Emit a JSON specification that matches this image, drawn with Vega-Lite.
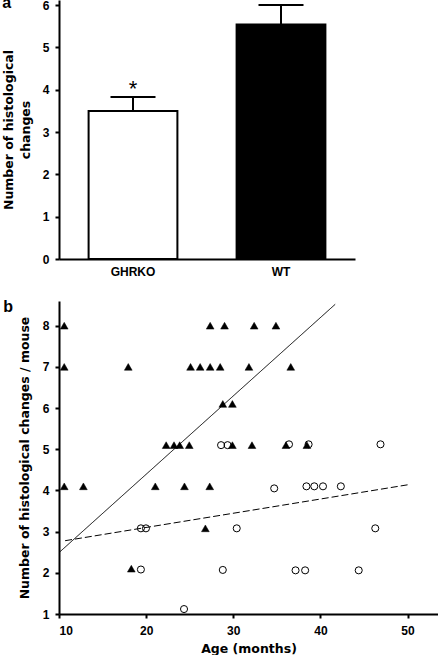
{
  "$schema": "https://vega.github.io/schema/vega-lite/v6.json",
  "padding": {"left": 2, "top": -5, "right": 0, "bottom": 0},
  "background": "white",
  "spacing": 22,
  "config": {
    "font": "Liberation Sans",
    "view": {"stroke": null},
    "axis": {
      "domainColor": "black", "domainWidth": 2,
      "tickColor": "black", "tickWidth": 2, "tickSize": 4,
      "labelColor": "black", "labelFont": "Liberation Sans", "labelFontWeight": "bold", "labelFontSize": 12, "labelPadding": 6,
      "titleColor": "black", "titleFont": "DejaVu Sans", "titleFontWeight": "bold", "titleFontSize": 12.5,
      "grid": false
    },
    "title": {"font": "Liberation Sans", "color": "black"}
  },
  "datasets": {
    "bars": [
      {"group": "GHRKO", "mean": 3.5, "upper": 3.83},
      {"group": "WT", "mean": 5.54, "upper": 6.0}
    ],
    "notes": [
      {"group": "GHRKO", "star_y": 3.86, "note": "*"}
    ],
    "fits": [
      {"fit": "WT", "age": 10, "changes": 2.49},
      {"fit": "WT", "age": 41.7, "changes": 8.52},
      {"fit": "GHRKO", "age": 10.7, "changes": 2.78},
      {"fit": "GHRKO", "age": 50.1, "changes": 4.14}
    ],
    "points": [
      {"genotype": "WT", "age": 10.6, "changes": 8.0},
      {"genotype": "WT", "age": 10.6, "changes": 7.0},
      {"genotype": "WT", "age": 10.6, "changes": 4.1},
      {"genotype": "WT", "age": 12.8, "changes": 4.1},
      {"genotype": "WT", "age": 17.95, "changes": 7.0},
      {"genotype": "WT", "age": 18.3, "changes": 2.1},
      {"genotype": "WT", "age": 21.05, "changes": 4.1},
      {"genotype": "WT", "age": 22.3, "changes": 5.1},
      {"genotype": "WT", "age": 23.2, "changes": 5.1},
      {"genotype": "WT", "age": 23.85, "changes": 5.1},
      {"genotype": "WT", "age": 24.95, "changes": 5.1},
      {"genotype": "WT", "age": 24.4, "changes": 4.1},
      {"genotype": "WT", "age": 25.1, "changes": 7.0},
      {"genotype": "WT", "age": 26.2, "changes": 7.0},
      {"genotype": "WT", "age": 27.35, "changes": 7.0},
      {"genotype": "WT", "age": 27.35, "changes": 8.0},
      {"genotype": "WT", "age": 27.3, "changes": 4.1},
      {"genotype": "WT", "age": 26.8, "changes": 3.08},
      {"genotype": "WT", "age": 28.5, "changes": 7.0},
      {"genotype": "WT", "age": 29.0, "changes": 8.0},
      {"genotype": "WT", "age": 28.8, "changes": 6.1},
      {"genotype": "WT", "age": 29.9, "changes": 6.1},
      {"genotype": "WT", "age": 29.9, "changes": 5.1},
      {"genotype": "WT", "age": 32.15, "changes": 5.1},
      {"genotype": "WT", "age": 31.8, "changes": 7.0},
      {"genotype": "WT", "age": 32.4, "changes": 8.0},
      {"genotype": "WT", "age": 34.9, "changes": 8.0},
      {"genotype": "WT", "age": 36.6, "changes": 7.0},
      {"genotype": "WT", "age": 36.05, "changes": 5.1},
      {"genotype": "WT", "age": 38.45, "changes": 5.1},
      {"genotype": "GHRKO", "age": 19.4, "changes": 3.08},
      {"genotype": "GHRKO", "age": 19.98, "changes": 3.08},
      {"genotype": "GHRKO", "age": 19.4, "changes": 2.08},
      {"genotype": "GHRKO", "age": 24.35, "changes": 1.12},
      {"genotype": "GHRKO", "age": 28.6, "changes": 5.1},
      {"genotype": "GHRKO", "age": 29.35, "changes": 5.1},
      {"genotype": "GHRKO", "age": 30.4, "changes": 3.08},
      {"genotype": "GHRKO", "age": 28.8, "changes": 2.07},
      {"genotype": "GHRKO", "age": 34.7, "changes": 4.05},
      {"genotype": "GHRKO", "age": 36.4, "changes": 5.12},
      {"genotype": "GHRKO", "age": 38.65, "changes": 5.12},
      {"genotype": "GHRKO", "age": 38.4, "changes": 4.1},
      {"genotype": "GHRKO", "age": 39.3, "changes": 4.1},
      {"genotype": "GHRKO", "age": 40.3, "changes": 4.1},
      {"genotype": "GHRKO", "age": 42.35, "changes": 4.1},
      {"genotype": "GHRKO", "age": 37.15, "changes": 2.06},
      {"genotype": "GHRKO", "age": 38.25, "changes": 2.06},
      {"genotype": "GHRKO", "age": 44.4, "changes": 2.06},
      {"genotype": "GHRKO", "age": 46.3, "changes": 3.08},
      {"genotype": "GHRKO", "age": 46.9, "changes": 5.12}
    ]
  },
  "vconcat": [
    {
      "width": 296,
      "height": 259,
      "title": {"text": "a", "anchor": "start", "frame": "bounds", "fontSize": 16, "fontWeight": "bold", "offset": -25, "baseline": "alphabetic"},
      "data": {"name": "bars"},
      "encoding": {
        "x": {
          "field": "group", "type": "nominal",
          "scale": {"domain": ["GHRKO", "WT"], "paddingInner": 0.4, "paddingOuter": 0.2},
          "axis": {"title": null, "labelAngle": 0, "ticks": false, "labelPadding": 7}
        }
      },
      "layer": [
        {
          "mark": {"type": "bar", "stroke": "black", "strokeWidth": 2, "opacity": 1},
          "encoding": {
            "y": {
              "field": "mean", "type": "quantitative",
              "scale": {"domain": [0, 6.12], "nice": false},
              "axis": {"values": [0, 1, 2, 3, 4, 5, 6], "title": ["Number of histological", "changes"], "titleLineHeight": 17, "titlePadding": 10}
            },
            "fill": {"field": "group", "type": "nominal", "scale": {"domain": ["GHRKO", "WT"], "range": ["white", "black"]}, "legend": null}
          }
        },
        {
          "mark": {"type": "rule", "strokeWidth": 2, "color": "black", "opacity": 1},
          "encoding": {
            "y": {"field": "mean", "type": "quantitative"},
            "y2": {"field": "upper"}
          }
        },
        {
          "mark": {"type": "tick", "color": "black", "thickness": 2, "size": 45, "opacity": 1},
          "encoding": {"y": {"field": "upper", "type": "quantitative"}}
        },
        {
          "data": {"name": "notes"},
          "mark": {"type": "text", "fontSize": 22, "baseline": "alphabetic", "color": "black", "font": "Liberation Sans"},
          "encoding": {
            "y": {"field": "star_y", "type": "quantitative"},
            "text": {"field": "note"}
          }
        }
      ]
    },
    {
      "width": 379,
      "height": 313,
      "title": {"text": "b", "anchor": "start", "frame": "bounds", "fontSize": 16, "fontWeight": "bold", "offset": -27, "baseline": "alphabetic", "dx": -15},
      "layer": [
        {
          "data": {"name": "fits"},
          "mark": {"type": "line", "color": "black", "strokeWidth": 1},
          "encoding": {
            "x": {
              "field": "age", "type": "quantitative",
              "scale": {"domain": [10, 53.5], "nice": false, "zero": false},
              "axis": {"values": [10, 20, 30, 40, 50], "title": "Age (months)", "labelPadding": 7, "titlePadding": 6}
            },
            "y": {
              "field": "changes", "type": "quantitative",
              "scale": {"domain": [1, 8.6], "nice": false, "zero": false},
              "axis": {"values": [1, 2, 3, 4, 5, 6, 7, 8], "title": "Number of histological changes / mouse", "titlePadding": 11}
            },
            "detail": {"field": "fit"},
            "strokeDash": {"field": "fit", "type": "nominal", "scale": {"domain": ["GHRKO", "WT"], "range": [[7, 3], [1, 0]]}, "legend": null}
          }
        },
        {
          "data": {"name": "points"},
          "transform": [{"filter": "datum.genotype === 'GHRKO'"}],
          "mark": {"type": "point", "shape": "circle", "filled": false, "stroke": "black", "strokeWidth": 1, "size": 50, "opacity": 1},
          "encoding": {
            "x": {"field": "age", "type": "quantitative"},
            "y": {"field": "changes", "type": "quantitative"}
          }
        },
        {
          "data": {"name": "points"},
          "transform": [{"filter": "datum.genotype === 'WT'"}],
          "mark": {"type": "point", "shape": "triangle-up", "filled": true, "fill": "black", "stroke": "black", "strokeWidth": 0.5, "size": 60, "opacity": 1},
          "encoding": {
            "x": {"field": "age", "type": "quantitative"},
            "y": {"field": "changes", "type": "quantitative"}
          }
        }
      ]
    }
  ]
}
